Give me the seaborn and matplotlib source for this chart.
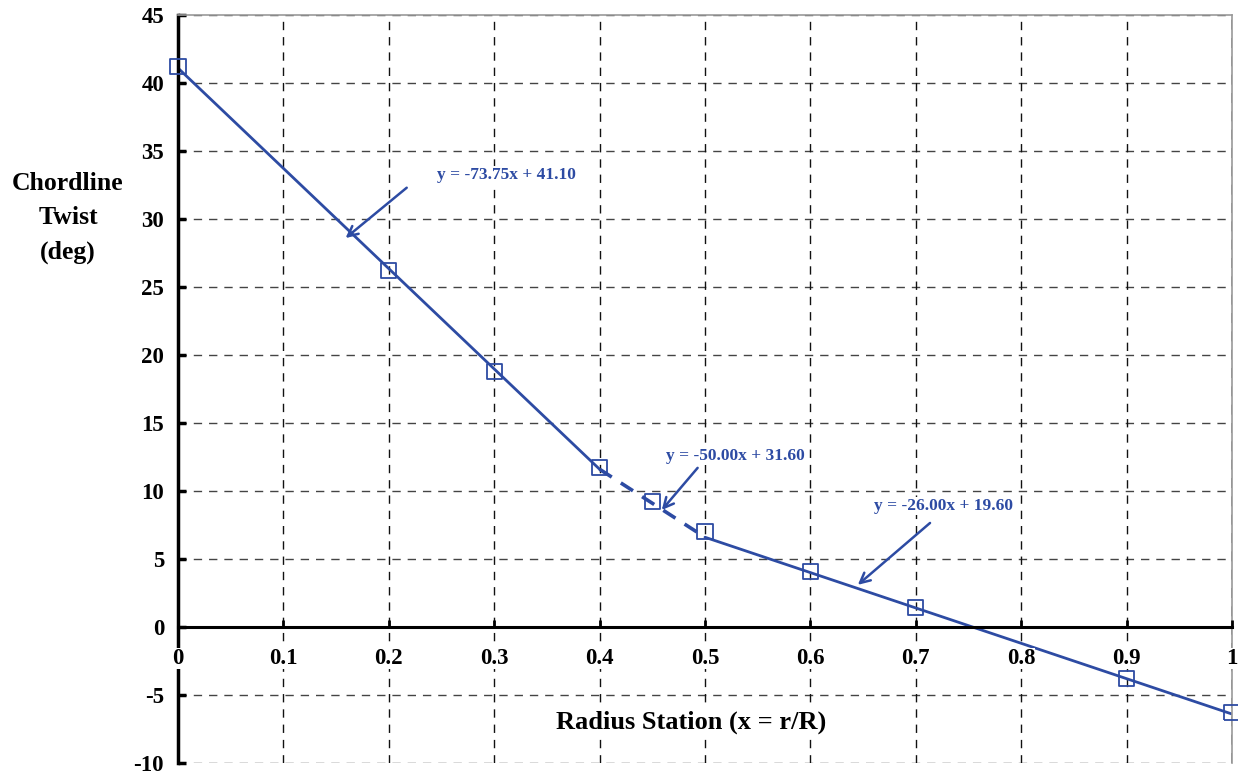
import numpy as np
import matplotlib
matplotlib.use("Agg")
import matplotlib.pyplot as plt
import seaborn as sns

# measured points
radius = [0.0, 0.2, 0.3, 0.4, 0.45, 0.5, 0.6, 0.7, 0.9, 1.0]
twist = [41.2, 26.2, 18.8, 11.7, 9.2, 7.05, 4.1, 1.45, -3.8, -6.3]

# piecewise linear fits (end points)
fit1_x = [0.0, 0.4]
fit1_y = [41.1, 11.6]
fit2_x = [0.4, 0.5]
fit2_y = [11.6, 6.6]
fit3_x = [0.5, 1.0]
fit3_y = [6.6, -6.4]

fit_labels = ["y = -73.75x + 41.10", "y = -50.00x + 31.60", "y = -26.00x + 19.60"]

xticks = [0, 0.1, 0.2, 0.3, 0.4, 0.5, 0.6, 0.7, 0.8, 0.9, 1]
xtick_labels = ["0", "0.1", "0.2", "0.3", "0.4", "0.5", "0.6", "0.7", "0.8", "0.9", "1"]
yticks = [-10, -5, 0, 5, 10, 15, 20, 25, 30, 35, 40, 45]

blue = '#2d4ba3'

sns.set_style("white")
plt.rcParams['font.family'] = ['Liberation Serif', 'DejaVu Serif']
plt.rcParams['font.weight'] = 'bold'
plt.rcParams['axes.unicode_minus'] = False
plt.rcParams['text.color'] = 'black'
plt.rcParams['xtick.color'] = 'black'
plt.rcParams['ytick.color'] = 'black'

fig = plt.figure(figsize=(12.38, 7.76), dpi=100)
ax = fig.add_axes([178/1238, 1-763/776, (1232-178)/1238, (763-15)/776])

sns.lineplot(x=fit1_x, y=fit1_y, ax=ax, color=blue, linewidth=2)
sns.lineplot(x=fit2_x, y=fit2_y, ax=ax, color=blue, linewidth=2.6, linestyle=(0, (4, 3)))
sns.lineplot(x=fit3_x, y=fit3_y, ax=ax, color=blue, linewidth=2)
sns.scatterplot(x=radius, y=twist, ax=ax, marker='s', s=120, facecolor='none',
                edgecolor=blue, linewidth=1.3, zorder=5, clip_on=False)

ax.set_xlim(0, 1)
ax.set_ylim(-10, 45)

# grid
for yv in yticks:
    ax.axhline(yv, color='#444444', linewidth=1, linestyle=(0, (6, 5)), zorder=0)
for xv in xticks[1:-1]:
    ax.axvline(xv, color='#111111', linewidth=1, linestyle=(0, (6, 5)), zorder=0)
ax.axvline(1, color='#777777', linewidth=1.2, linestyle=(0, (6, 5)), zorder=0)

ax.spines['bottom'].set_position(('data', 0))
ax.spines['bottom'].set_linewidth(2.2)
ax.spines['bottom'].set_color('black')
ax.spines['left'].set_linewidth(2.5)
ax.spines['left'].set_color('black')
ax.spines['top'].set_color('#999999')
ax.spines['top'].set_linewidth(1.2)
ax.spines['right'].set_color('#999999')
ax.spines['right'].set_linewidth(1.2)

ax.set_xticks(xticks)
ax.set_xticklabels(xtick_labels)
ax.set_yticks(yticks)
ax.tick_params(axis='x', direction='in', length=5, width=2, pad=15, labelsize=16.5, bottom=True)
ax.tick_params(axis='y', direction='in', length=6, width=2.5, pad=10, labelsize=16.5, left=True)
for lab in ax.get_xticklabels() + ax.get_yticklabels():
    lab.set_fontweight('bold')
for lab in ax.get_xticklabels():
    lab.set_bbox(dict(facecolor='white', edgecolor='none', pad=0))
ax.xaxis.set_zorder(3)

# fit annotations
arrows = [((0.159, 28.6), (0.217, 32.3), (0.312, 33.2)),
          ((0.459, 8.6), (0.493, 11.7), (0.529, 12.6)),
          ((0.645, 3.1), (0.7135, 7.65), (0.726, 8.9))]
for (head, tail, txt), label in zip(arrows, fit_labels):
    ax.annotate('', xy=head, xytext=tail,
                arrowprops=dict(arrowstyle='->', color=blue, lw=1.8, mutation_scale=18,
                                shrinkA=0, shrinkB=0))
    ax.text(txt[0], txt[1], label, color=blue, fontsize=12.5, fontweight='bold',
            ha='center', va='center',
            bbox=dict(facecolor='white', edgecolor='none', pad=1))

fig.text(68/1238, 1-218/776, "Chordline\nTwist\n(deg)", ha='center', va='center',
         fontsize=18.5, fontweight='bold', linespacing=1.6)
fig.text(691/1238, 1-722/776, "Radius Station (x = r/R)", ha='center', va='center',
         fontsize=19, fontweight='bold',
         bbox=dict(facecolor='white', edgecolor='none', pad=2))

fig.savefig("out.png", dpi=100)
